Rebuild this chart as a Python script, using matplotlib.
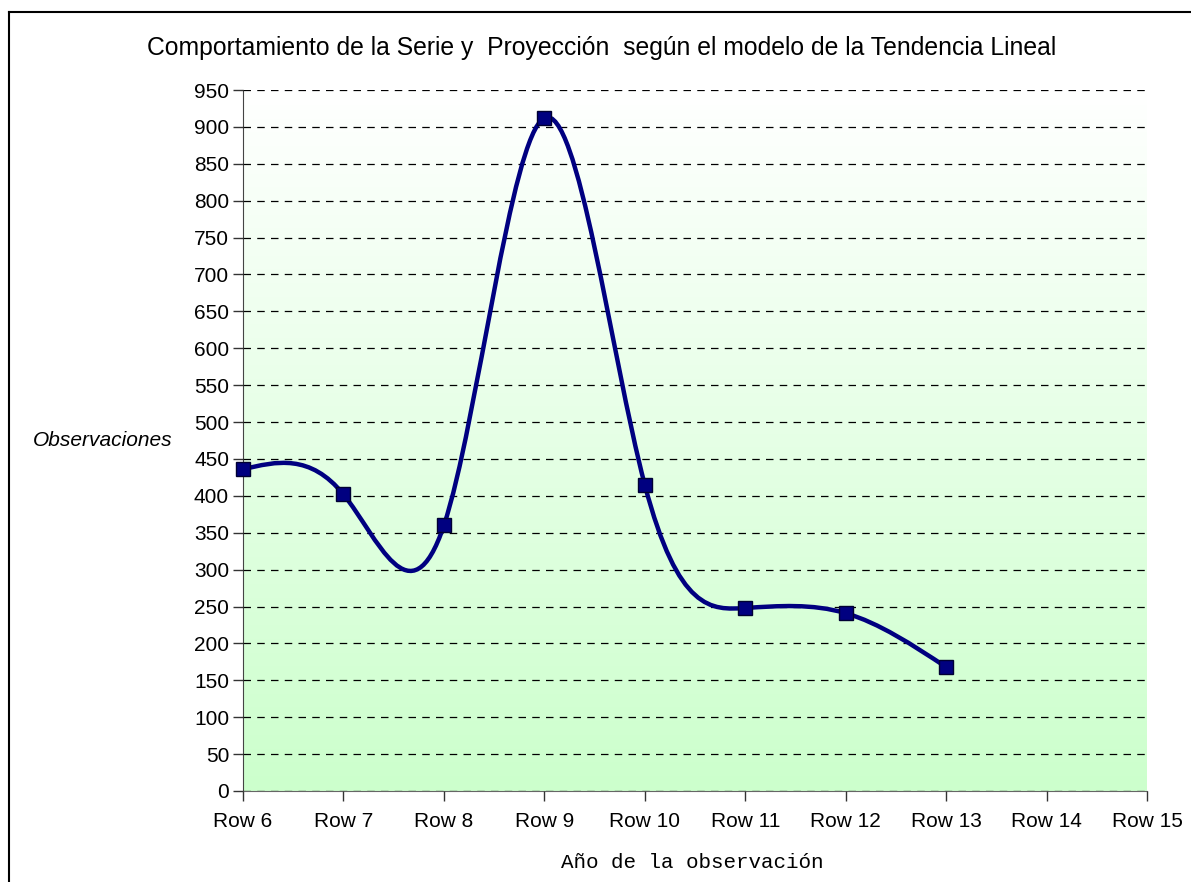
import matplotlib
matplotlib.use("Agg")
import matplotlib.pyplot as plt
import numpy as np
from matplotlib.path import Path
from matplotlib.patches import PathPatch
from matplotlib.lines import Line2D
from matplotlib.colors import LinearSegmentedColormap

# datos
categorias = ["Row 6", "Row 7", "Row 8", "Row 9", "Row 10",
              "Row 11", "Row 12", "Row 13", "Row 14", "Row 15"]
observaciones = [436, 402, 360, 912, 415, 248, 241, 168]
y_ticks = list(range(0, 951, 50))

plt.rcParams['font.family'] = ['Liberation Sans', 'DejaVu Sans']
plt.rcParams['font.size'] = 15

fig = plt.figure(figsize=(11.91, 8.82), dpi=100)
ax = fig.add_axes([243 / 1191, 1 - 791 / 882, (1147 - 243) / 1191, (791 - 90) / 882])

x = np.arange(len(observaciones), dtype=float)
y = np.array(observaciones, dtype=float)
ymax = 950

# fondo degradado blanco -> verde
cmap = LinearSegmentedColormap.from_list("fondo", ["#ccffcc", "#ffffff"])
grad = np.linspace(0, 1, 256).reshape(-1, 1)
ax.imshow(grad, extent=[0, len(categorias) - 1, 0, ymax], origin="lower",
          aspect="auto", cmap=cmap, zorder=0)

# linea suavizada: spline cubica natural, dibujada como segmentos bezier
n = len(y)
A = np.zeros((n, n))
b = np.zeros(n)
A[0, 0] = A[-1, -1] = 1
for i in range(1, n - 1):
    A[i, i - 1], A[i, i], A[i, i + 1] = 1, 4, 1
    b[i] = 6 * (y[i + 1] - 2 * y[i] + y[i - 1])
M = np.linalg.solve(A, b)
verts = [(x[0], y[0])]
codes = [Path.MOVETO]
for i in range(n - 1):
    d0 = (y[i + 1] - y[i]) - (2 * M[i] + M[i + 1]) / 6
    d1 = (y[i + 1] - y[i]) + (M[i] + 2 * M[i + 1]) / 6
    verts += [(x[i] + 1 / 3, y[i] + d0 / 3), (x[i + 1] - 1 / 3, y[i + 1] - d1 / 3),
              (x[i + 1], y[i + 1])]
    codes += [Path.CURVE4] * 3
ax.add_patch(PathPatch(Path(verts, codes), facecolor="none", edgecolor="#000080",
                       lw=3.2, zorder=3, capstyle="round"))
ax.plot(x, y, ls="none", marker="s", ms=10, mfc="#000080",
        mec="#000033", mew=1, zorder=4, clip_on=False)

ax.set_xlim(0, len(categorias) - 1)
ax.set_ylim(0, ymax)
ax.set_xticks(range(len(categorias)))
ax.set_xticklabels(categorias)
ax.set_yticks(y_ticks)
ax.yaxis.grid(True, ls=(0, (6, 5)), color="black", lw=0.9)
ax.set_axisbelow(False)
for s in ["top", "right"]:
    ax.spines[s].set_visible(False)
ax.spines["left"].set_color("#444444")
ax.spines["bottom"].set_color("#666666")
ax.tick_params(direction="out", length=7, width=1, color="#333333", labelsize=15)
ax.tick_params(axis="x", pad=8)
ax.tick_params(axis="y", pad=3)

fig.text(602 / 1191, 1 - 48 / 882, "Comportamiento de la Serie y  Proyección  según el modelo de la Tendencia Lineal",
         ha="center", va="center", fontsize=17.8)
fig.text(103 / 1191, 1 - 441 / 882, "Observaciones", ha="center", va="center",
         fontsize=15, style="italic")
fig.text(692 / 1191, 1 - 863 / 882, "Año de la observación", ha="center", va="center",
         fontsize=15, family=["Liberation Mono", "DejaVu Sans Mono"])

# marco exterior
fig.add_artist(Line2D([8.5 / 1191, 1], [1 - 12 / 882, 1 - 12 / 882], color="black", lw=1.5,
                      transform=fig.transFigure))
fig.add_artist(Line2D([8.5 / 1191, 8.5 / 1191], [0, 1 - 12 / 882], color="black", lw=1.5,
                      transform=fig.transFigure))

fig.savefig("out.png", dpi=100)
